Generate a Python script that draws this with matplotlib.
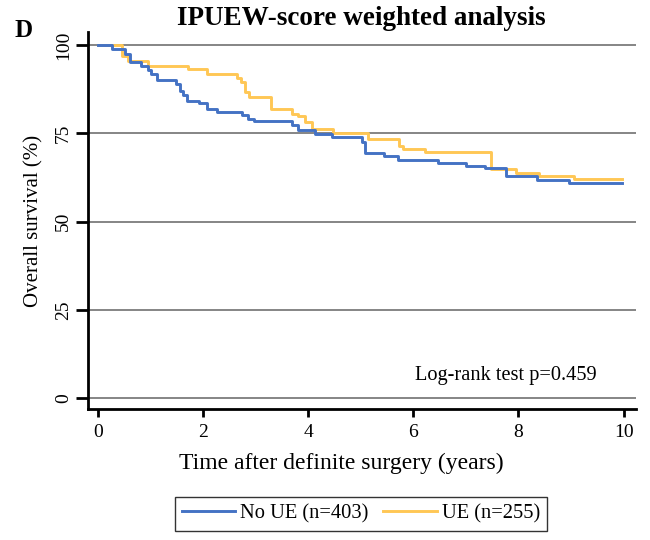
import matplotlib
matplotlib.use('Agg')
import matplotlib.pyplot as plt

# Kaplan-Meier style step data
noue_time = [0, 0.28, 0.51, 0.62, 0.82, 0.95, 1.02, 1.13, 1.48, 1.56, 1.63, 1.70, 1.93, 2.07,
             2.27, 2.74, 2.85, 2.97, 3.70, 3.81, 4.14, 4.46, 5.03, 5.08, 5.44, 5.71, 6.47,
             7.00, 7.36, 7.76, 8.35, 8.97, 9.96]
noue_surv = [100, 98.9, 97.6, 95.1, 94.0, 92.9, 91.7, 90.1, 89.1, 87.0, 86.0, 84.1, 83.7, 81.9,
             81.0, 80.1, 79.1, 78.4, 77.3, 75.9, 74.8, 73.9, 72.6, 69.5, 68.6, 67.4, 66.5,
             65.8, 65.1, 63.0, 61.8, 61.0, 61.0]

ue_time = [0, 0.47, 0.58, 0.96, 1.72, 2.07, 2.64, 2.73, 2.80, 2.87, 3.30, 3.70, 3.81, 3.95,
           4.07, 4.47, 5.14, 5.73, 5.80, 6.22, 7.48, 7.96, 8.40, 9.05, 9.96]
ue_surv = [100, 96.9, 95.6, 94.0, 93.1, 91.8, 90.6, 89.6, 86.8, 85.4, 81.8, 80.6, 79.9, 78.3,
           76.2, 75.2, 73.4, 71.4, 70.5, 69.6, 64.9, 63.9, 62.9, 62.1, 62.1]

yticks = [0, 25, 50, 75, 100]
xticks = [0, 2, 4, 6, 8, 10]

plt.rcParams['font.family'] = ['Liberation Serif', 'DejaVu Serif']

fig = plt.figure(figsize=(6.5, 5.4), dpi=100)
ax = fig.add_axes([0.135, 0.2426, 0.843, 0.698])

for y in yticks:
    ax.axhline(y, color='#858585', lw=1.4, zorder=1)

ax.step(noue_time, noue_surv, where='post', color='#4472C4', lw=2.1, label='No UE (n=403)', zorder=3)
ax.step(ue_time, ue_surv, where='post', color='#FFC755', lw=2.1, label='UE (n=255)', zorder=2)

ax.set_xlim(-0.19, 10.23)
ax.set_ylim(-3.1, 103.7)
ax.set_xticks(xticks)
ax.set_yticks(yticks)
ax.set_yticklabels([str(v) for v in yticks], rotation=90, va='center')
ax.tick_params(axis='both', labelsize=14, width=2, direction='out')
ax.tick_params(axis='y', length=8.5, pad=3)
ax.tick_params(axis='x', length=6, pad=5)
for s in ['top', 'right']:
    ax.spines[s].set_visible(False)
for s in ['left', 'bottom']:
    ax.spines[s].set_linewidth(2)

ax.set_ylabel('Overall survival (%)', fontsize=15, labelpad=8)
fig.text(341 / 650, 1 - 469 / 540, 'Time after definite surgery (years)', fontsize=17,
         ha='center', va='baseline')
fig.text(361 / 650, 1 - 25 / 540, 'IPUEW-score weighted analysis', fontsize=19.5,
         fontweight='bold', ha='center', va='baseline')
ax.text(7.76, 6.5, 'Log-rank test p=0.459', fontsize=14.7, ha='center', va='center')

fig.text(24 / 650, 1 - 31 / 540, 'D', fontsize=18, fontweight='bold', ha='center', va='center')

fig.legend(loc='upper center', bbox_to_anchor=(361 / 650, 1 - 497 / 540), ncol=2, fontsize=14.8,
           frameon=True, fancybox=False, edgecolor='black', handlelength=2.6,
           columnspacing=0.7, borderpad=0.35, handletextpad=0.25, borderaxespad=0)

fig.savefig('out.png', dpi=100)
